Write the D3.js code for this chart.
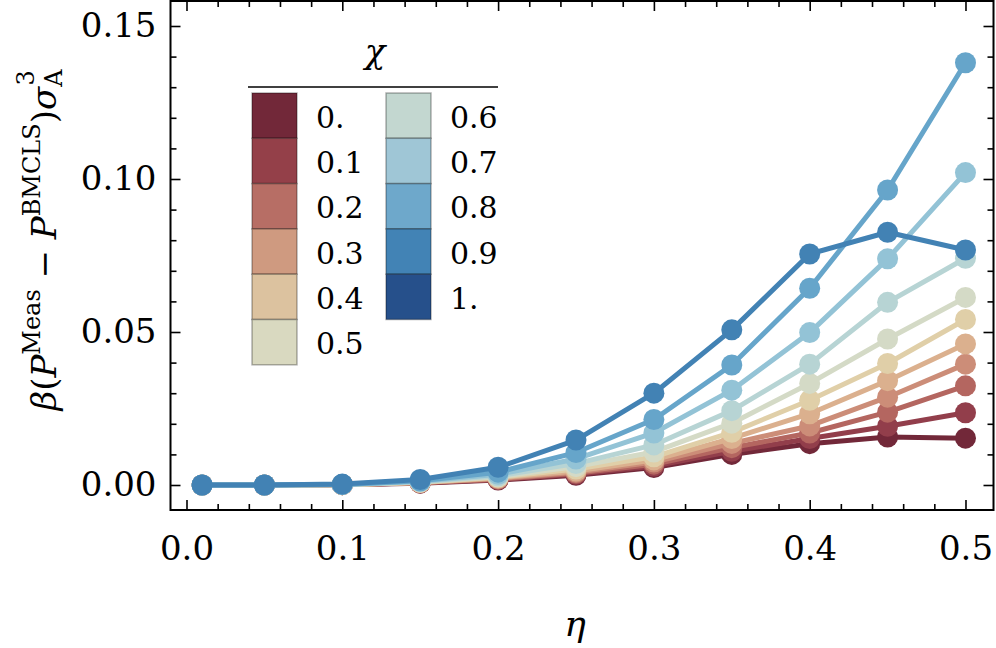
<!DOCTYPE html>
<html>
<head>
<meta charset="utf-8">
<script src="https://cdn.jsdelivr.net/npm/d3@7"></script>
<style>
  html, body { margin: 0; padding: 0; background: #fff; }
  svg { display: block; }
</style>
</head>
<body>
<div id="chart"></div>
<script>
// ---------------- data ----------------
const eta = [0.01, 0.05, 0.1, 0.15, 0.2, 0.25, 0.3, 0.35, 0.4, 0.45, 0.5];
const chiLabels = ["0.", "0.1", "0.2", "0.3", "0.4", "0.5", "0.6", "0.7", "0.8", "0.9", "1."];

const chi00 = [0, 0, 0.0001, 0.0006, 0.0016, 0.0032, 0.0057, 0.0100, 0.0135, 0.0157, 0.0153];
const chi01 = [0, 0, 0.0001, 0.0007, 0.0018, 0.0035, 0.0062, 0.0110, 0.0152, 0.0192, 0.0236];
const chi02 = [0, 0, 0.0001, 0.0007, 0.0019, 0.0038, 0.0068, 0.0122, 0.0170, 0.0238, 0.0324];
const chi03 = [0, 0, 0.0001, 0.0008, 0.0021, 0.0042, 0.0075, 0.0136, 0.0193, 0.0287, 0.0395];
const chi04 = [0, 0, 0.0001, 0.0008, 0.0023, 0.0046, 0.0082, 0.0152, 0.0233, 0.0341, 0.0461];
const chi05 = [0, 0, 0.0001, 0.0009, 0.0025, 0.0052, 0.0092, 0.0172, 0.0277, 0.0397, 0.0541];
const chi06 = [0, 0, 0.0001, 0.0010, 0.0027, 0.0060, 0.0108, 0.0202, 0.0332, 0.0477, 0.0613];
const chi07 = [0, 0, 0.0002, 0.0011, 0.0030, 0.0070, 0.0131, 0.0243, 0.0395, 0.0597, 0.0741];
const chi08 = [0, 0, 0.0002, 0.0012, 0.0035, 0.0085, 0.0170, 0.0310, 0.0498, 0.0739, 0.1021];
const chi09 = [0, 0, 0.0002, 0.0014, 0.0042, 0.0106, 0.0214, 0.0392, 0.0643, 0.0964, 0.1380];
const chi10 = [0, 0, 0.0003, 0.0018, 0.0058, 0.0147, 0.0300, 0.0507, 0.0755, 0.0826, 0.0768];

const seriesValues = [chi00, chi01, chi02, chi03, chi04, chi05, chi06, chi07, chi08, chi09, chi10];

const xTickValues = [0, 0.1, 0.2, 0.3, 0.4, 0.5];
const xTickLabels = ["0.0", "0.1", "0.2", "0.3", "0.4", "0.5"];
const yTickValues = [0, 0.05, 0.10, 0.15];
const yTickLabels = ["0.00", "0.05", "0.10", "0.15"];

// ---------------- styles ----------------
const seriesColors = ["#722839", "#923e4b", "#b46660", "#cc8d78", "#dbb08e", "#e0cfa8",
                      "#d4dac6", "#b7d4d4", "#93c3d6", "#66a5ca", "#4282b4"];
const legendColors = ["#722839", "#944049", "#b76e65", "#cf9a80", "#dcc29f", "#d9d9c0",
                      "#c3d7d0", "#9fc6d6", "#6ea8cb", "#4283b5", "#26508b"];

const W = 996, H = 648;
const FONT = "'DejaVu Serif', serif";
const frame = { left: 170.5, right: 993.5, top: 1, bottom: 510 };

const svg = d3.select("#chart").append("svg").attr("width", W).attr("height", H);

const x = d3.scaleLinear().domain([-0.01027, 0.51798]).range([frame.left, frame.right]);
const y = d3.scaleLinear().domain([-0.00817, 0.15817]).range([frame.bottom, frame.top]);

// ---------------- series ----------------
const line = d3.line().x((d, i) => x(eta[i])).y(d => y(d));
const plot = svg.append("g");
seriesValues.forEach((vals, s) => {
  const g = plot.append("g");
  g.append("path").datum(vals)
    .attr("d", line)
    .attr("fill", "none")
    .attr("stroke", seriesColors[s])
    .attr("stroke-width", 5)
    .attr("stroke-linejoin", "round");
  g.selectAll("circle").data(vals).enter().append("circle")
    .attr("cx", (d, i) => x(eta[i]))
    .attr("cy", d => y(d))
    .attr("r", 10.5)
    .attr("fill", seriesColors[s]);
});

// ---------------- axes / frame ----------------
const minorX = d3.range(0, 0.5001, 0.02).filter(v => Math.abs(v * 10 - Math.round(v * 10)) > 1e-6);
const minorY = d3.range(0, 0.1501, 0.01).filter(v => Math.abs(v * 20 - Math.round(v * 20)) > 1e-6);

function styleAxis(g) {
  g.select(".domain").remove();
  g.selectAll("line").attr("stroke", "#000").attr("stroke-width", 1.6);
  g.selectAll("text").attr("font-family", FONT).attr("font-size", 34).attr("fill", "#000");
  g.attr("font-family", null).attr("font-size", null);
}

// bottom
svg.append("g").attr("transform", `translate(0,${frame.bottom})`)
  .call(d3.axisBottom(x).tickValues(xTickValues).tickFormat((d, i) => xTickLabels[i]).tickSize(-10).tickPadding(26))
  .call(styleAxis);
svg.append("g").attr("transform", `translate(0,${frame.bottom})`)
  .call(d3.axisBottom(x).tickValues(minorX).tickFormat("").tickSize(-6))
  .call(styleAxis);
// top
svg.append("g").attr("transform", `translate(0,${frame.top})`)
  .call(d3.axisTop(x).tickValues(xTickValues).tickFormat("").tickSize(-10))
  .call(styleAxis);
svg.append("g").attr("transform", `translate(0,${frame.top})`)
  .call(d3.axisTop(x).tickValues(minorX).tickFormat("").tickSize(-6))
  .call(styleAxis);
// left
svg.append("g").attr("transform", `translate(${frame.left},0)`)
  .call(d3.axisLeft(y).tickValues(yTickValues).tickFormat((d, i) => yTickLabels[i]).tickSize(-10).tickPadding(14))
  .call(styleAxis);
svg.append("g").attr("transform", `translate(${frame.left},0)`)
  .call(d3.axisLeft(y).tickValues(minorY).tickFormat("").tickSize(-6))
  .call(styleAxis);
// right
svg.append("g").attr("transform", `translate(${frame.right},0)`)
  .call(d3.axisRight(y).tickValues(yTickValues).tickFormat("").tickSize(-10))
  .call(styleAxis);
svg.append("g").attr("transform", `translate(${frame.right},0)`)
  .call(d3.axisRight(y).tickValues(minorY).tickFormat("").tickSize(-6))
  .call(styleAxis);

svg.append("rect")
  .attr("x", frame.left).attr("y", frame.top)
  .attr("width", frame.right - frame.left).attr("height", frame.bottom - frame.top)
  .attr("fill", "none").attr("stroke", "#000").attr("stroke-width", 2);

// ---------------- axis labels ----------------
svg.append("text")
  .attr("x", 575).attr("y", 636)
  .attr("text-anchor", "middle")
  .attr("font-family", FONT).attr("font-style", "italic").attr("font-size", 36)
  .text("η");

const yl = svg.append("text")
  .attr("transform", "translate(56,240) rotate(-90)")
  .attr("text-anchor", "middle")
  .attr("font-family", FONT).attr("font-size", 34).attr("fill", "#000");
yl.append("tspan").attr("font-style", "italic").text("β");
yl.append("tspan").text("(");
yl.append("tspan").attr("font-style", "italic").text("P");
yl.append("tspan").attr("font-size", 24).attr("dy", -16).text("Meas");
yl.append("tspan").attr("dy", 16).text(" − ");
yl.append("tspan").attr("font-style", "italic").text("P");
yl.append("tspan").attr("font-size", 24).attr("dy", -16).text("BMCLS");
yl.append("tspan").attr("dy", 16).text(")");
yl.append("tspan").attr("font-style", "italic").text("σ");
yl.append("tspan").attr("font-size", 24).attr("dy", 6).text("A");
yl.append("tspan").attr("font-size", 24).attr("dx", -16).attr("dy", -28).text("3");

// ---------------- legend ----------------
const lg = svg.append("g");
lg.append("text")
  .attr("x", 375).attr("y", 63)
  .attr("text-anchor", "middle")
  .attr("font-family", FONT).attr("font-style", "italic").attr("font-size", 34)
  .text("χ");
lg.append("line")
  .attr("x1", 248).attr("x2", 498).attr("y1", 87).attr("y2", 87)
  .attr("stroke", "#000").attr("stroke-width", 1.5);

const rowH = 45.3, swW = 45, col0 = 252, col1 = 386, rowTop = 93;
chiLabels.forEach((lab, i) => {
  const col = i < 6 ? 0 : 1;
  const row = i < 6 ? i : i - 6;
  const sx = col === 0 ? col0 : col1;
  const sy = rowTop + row * rowH;
  lg.append("rect")
    .attr("x", sx).attr("y", sy).attr("width", swW).attr("height", rowH)
    .attr("fill", legendColors[i])
    .attr("stroke", "rgba(0,0,0,0.3)").attr("stroke-width", 1.5);
  lg.append("text")
    .attr("x", sx + 64).attr("y", sy + rowH / 2 + 12)
    .attr("font-family", FONT).attr("font-size", 30)
    .text(lab);
});
</script>
</body>
</html>
